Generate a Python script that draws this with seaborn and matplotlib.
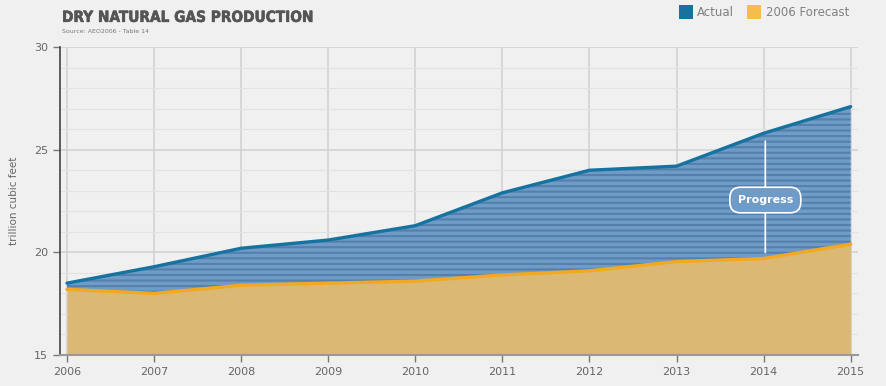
import numpy as np
import pandas as pd
import matplotlib
matplotlib.use('Agg')
import matplotlib.pyplot as plt
import matplotlib.patheffects as pe
import seaborn as sns
from matplotlib.ticker import MultipleLocator
from matplotlib import font_manager

sns.set_style('white')
plt.rcParams['font.family'] = ['DejaVu Sans']
plt.rcParams['hatch.linewidth'] = 1.5

# datos
years = [2006, 2007, 2008, 2009, 2010, 2011, 2012, 2013, 2014, 2015]
actual = [18.5, 19.3, 20.2, 20.6, 21.3, 22.9, 24.0, 24.2, 25.8, 27.1]
forecast = [18.2, 18.0, 18.4, 18.5, 18.6, 18.9, 19.1, 19.55, 19.7, 20.4]
yticks = [15, 20, 25, 30]

df = pd.DataFrame({'year': years, 'Actual': actual, '2006 Forecast': forecast})

bg = '#f0f0f0'
blue_line = '#16739f'
blue_fill = '#6e9bc8'
blue_stripe = '#5680ab'
orange_line = '#f2a81f'
orange_fill = '#dcb875'
grey_txt = '#666666'

# fuente condensada negrita si hay
cands = []
for f in font_manager.fontManager.ttflist:
    st = f.stretch
    if isinstance(st, str):
        st = font_manager.stretch_dict.get(st, 500)
    w = f.weight if isinstance(f.weight, int) else font_manager.weight_dict.get(f.weight, 400)
    if st < 500 and w >= 600 and 'Oblique' not in f.fname and 'Italic' not in f.fname:
        cands.append(f.fname)
if cands:
    title_fp = font_manager.FontProperties(fname=sorted(cands)[0], size=11)
else:
    title_fp = font_manager.FontProperties(family='DejaVu Sans', weight='bold', size=9.5)

fig = plt.figure(figsize=(8.86, 3.86), dpi=100, facecolor=bg)
ax = fig.add_axes([0.0677, 0.0803, 0.9003, 0.7977], facecolor=bg)

# relleno actual con rayas horizontales
ax.fill_between(df['year'], df['2006 Forecast'], df['Actual'], facecolor=blue_fill,
                edgecolor=blue_stripe, hatch='---', linewidth=0, zorder=2)
ax.fill_between(df['year'], 15, df['2006 Forecast'], facecolor=orange_fill,
                linewidth=0, zorder=2)

sns.lineplot(data=df, x='year', y='Actual', color=blue_line, linewidth=2.4, ax=ax, zorder=4)
sns.lineplot(data=df, x='year', y='2006 Forecast', color=orange_line, linewidth=2.4, ax=ax, zorder=3)

ax.set_xlim(2006 - 7 / 87.1, 2015 + 7 / 87.1)
ax.set_ylim(15, 30)
ax.set_xticks(years)
ax.set_xticklabels([str(y) for y in years])
ax.set_yticks(yticks)
ax.yaxis.set_minor_locator(MultipleLocator(1))
ax.grid(True, which='major', axis='both', color='#d2d2d2', linewidth=1.2, zorder=0)
ax.grid(True, which='minor', axis='y', color='#e2e2e2', linewidth=0.8, zorder=0)
ax.set_axisbelow(True)

for s in ['top', 'right']:
    ax.spines[s].set_visible(False)
ax.spines['left'].set_color('#444444')
ax.spines['left'].set_linewidth(1.2)
ax.spines['bottom'].set_color('#999999')
ax.spines['bottom'].set_linewidth(1.5)
ax.tick_params(axis='both', which='major', length=5, width=1, color='#777777',
               labelsize=8, labelcolor=grey_txt, direction='out', left=True, bottom=True)
ax.tick_params(axis='y', which='minor', length=0)

ax.set_xlabel('')
ax.set_ylabel('trillion cubic feet', fontsize=7.5, color=grey_txt, labelpad=11)

# anotacion Progress
ax.annotate('', xy=(2014.02, 19.85), xytext=(2014.02, 25.55),
            arrowprops=dict(arrowstyle='-', color='white', lw=1.2), zorder=5)
ax.text(2014.02, 22.55, 'Progress', ha='center', va='center', color='white',
        fontsize=8, fontweight='bold', zorder=6,
        bbox=dict(boxstyle='round,pad=0.7,rounding_size=0.95', facecolor=blue_fill,
                  edgecolor='white', linewidth=1.2))

# titulo
t = fig.text(0.070, 0.955, 'DRY NATURAL GAS PRODUCTION', fontproperties=title_fp,
             color='#555555', ha='left', va='center')
t.set_path_effects([pe.withStroke(linewidth=0.4, foreground='#555555')])
fig.text(0.070, 0.918, 'Source: AEO2006 - Table 14', fontsize=4.5, color='#777777',
         ha='left', va='center')

# leyenda
fig.patches.append(plt.Rectangle((0.766, 0.952), 0.016, 0.036, transform=fig.transFigure,
                                 facecolor=blue_line, edgecolor='none'))
fig.text(0.787, 0.968, 'Actual', fontsize=8.5, color='#808080', va='center', ha='left')
fig.patches.append(plt.Rectangle((0.843, 0.952), 0.016, 0.036, transform=fig.transFigure,
                                 facecolor='#f7bd4a', edgecolor='none'))
fig.text(0.865, 0.968, '2006 Forecast', fontsize=8.5, color='#808080', va='center', ha='left')

fig.savefig('out.png', dpi=100, facecolor=bg)
